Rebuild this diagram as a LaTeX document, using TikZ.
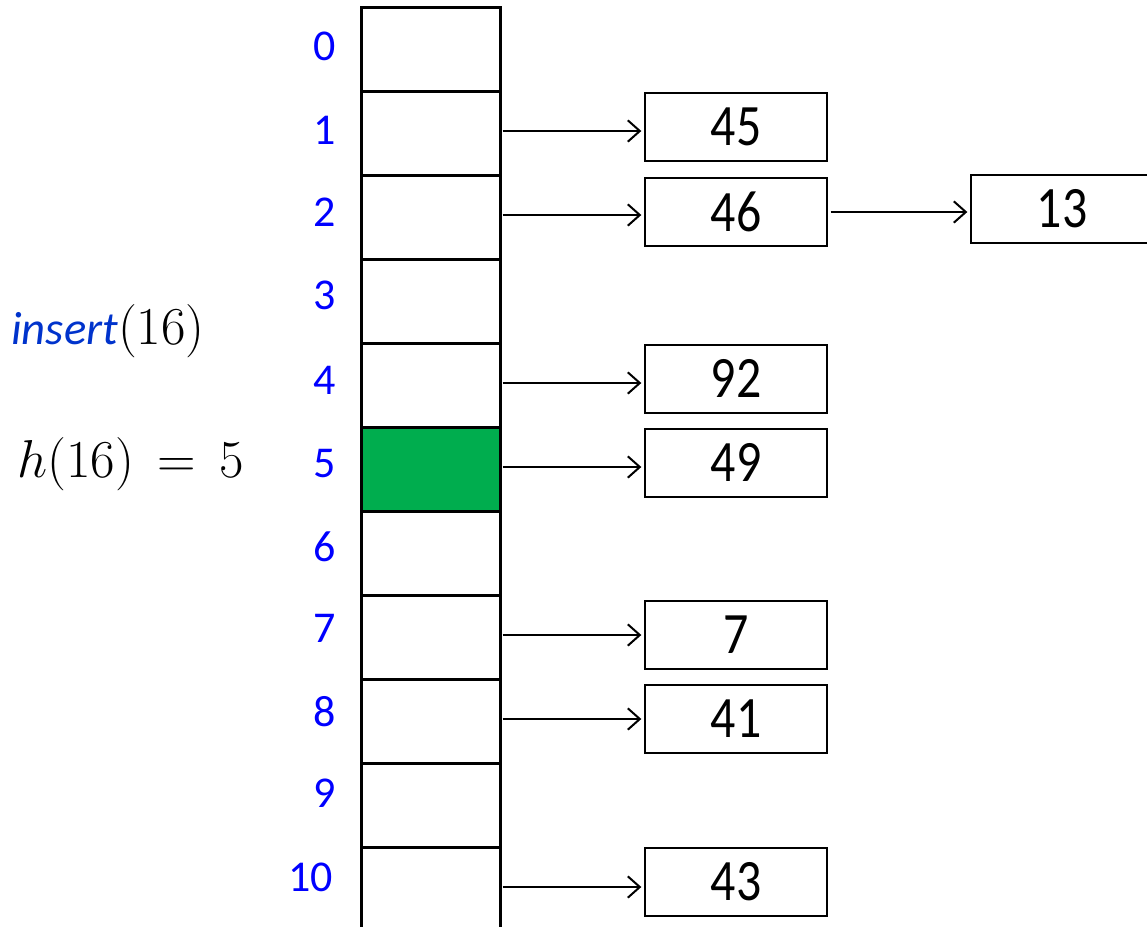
\RequirePackage{fix-cm}
\documentclass[tikz,border=0pt]{standalone}
\usepackage{fontspec}
\setmainfont{Carlito}
\usetikzlibrary{arrows.meta}
\definecolor{idxblue}{RGB}{0,0,255}
\definecolor{insblue}{RGB}{0,51,204}
\definecolor{cellgreen}{RGB}{0,173,78}
\newcommand{\narrowtxt}[1]{\scalebox{0.85}[1]{#1}}
\tikzset{
  cell/.style={draw, line width=2.25pt, minimum width=104.25pt, minimum height=63pt, inner sep=0pt, outer sep=0pt},
  idx/.style={anchor=east, text=idxblue, font=\fontsize{33}{36}\selectfont, inner sep=0pt},
  valbox/.style={draw, line width=1.5pt, minimum width=136.5pt, minimum height=51pt, inner sep=0pt, font=\fontsize{44}{48}\selectfont},
  link/.style={line width=1.5pt, -{Straight Barb[length=9pt,width=16pt,line width=1.5pt]}, shorten <=2pt, shorten >=2pt}
}
\begin{document}
\begin{tikzpicture}[x=0.75pt,y=-0.75pt]
\useasboundingbox (0,0) rectangle (1147,926);
\clip (0,0) rectangle (1147,926);
% table cells
\foreach \i in {0,...,10}{
  \node[cell] (c\i) at (430.5,{49+84*\i}) {};
}
\node[cell, fill=cellgreen] at (c5) {};
% index labels
\node[idx] (i0) at (336,46) {0};
\node[idx] (i1) at (336,130) {1};
\node[idx] (i2) at (336,212) {2};
\node[idx] (i3) at (336,295) {3};
\node[idx] (i4) at (336,380) {4};
\node[idx] (i5) at (336,464) {5};
\node[idx] (i6) at (336,547) {6};
\node[idx] (i7) at (336,628) {7};
\node[idx] (i8) at (336,712) {8};
\node[idx] (i9) at (336,793) {9};
\node[idx] (i10) at (333,877) {10};
% value boxes
\node[valbox] (b45) at (736,127) {\narrowtxt{45}};
\node[valbox] (b46) at (736,212) {\narrowtxt{46}};
\node[valbox] (b13) at (1062,208.5) {\narrowtxt{13}};
\node[valbox] (b92) at (736,378.5) {\narrowtxt{92}};
\node[valbox] (b49) at (736,462.5) {\narrowtxt{49}};
\node[valbox] (b7) at (736,635) {\narrowtxt{7}};
\node[valbox] (b41) at (736,719) {\narrowtxt{41}};
\node[valbox] (b43) at (736,882) {\narrowtxt{43}};
% links
\draw[link] ([yshift=1.5pt]c1.east) -- ([yshift=1.5pt]c1.east -| b45.west);
\draw[link] ([yshift=1.5pt]c2.east) -- ([yshift=1.5pt]c2.east -| b46.west);
\draw[link] (b46.east) -- (b46.east -| b13.west);
\draw[link] ([yshift=1.5pt]c4.east) -- ([yshift=1.5pt]c4.east -| b92.west);
\draw[link] ([yshift=1.5pt]c5.east) -- ([yshift=1.5pt]c5.east -| b49.west);
\draw[link] ([yshift=1.5pt]c7.east) -- ([yshift=1.5pt]c7.east -| b7.west);
\draw[link] ([yshift=1.5pt]c8.east) -- ([yshift=1.5pt]c8.east -| b41.west);
\draw[link] ([yshift=1.5pt]c10.east) -- ([yshift=1.5pt]c10.east -| b43.west);
% left texts
\node[anchor=west, inner sep=0pt] (ins) at (11,331) {{\fontsize{35}{40}\selectfont\color{insblue}\itshape insert}{\fontsize{40}{44}\selectfont$(16)$}};
\node[anchor=west, inner sep=0pt, font=\fontsize{40}{44}\selectfont] (hash) at (17,464) {$h(16)\,=\,5$};
\end{tikzpicture}
\end{document}
